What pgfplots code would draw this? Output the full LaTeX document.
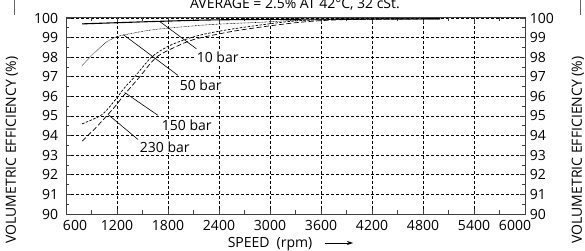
\documentclass[border=0pt]{standalone}
\usepackage{pgfplots}
\pgfplotsset{compat=1.18}
\usepackage{fontspec}
\setmainfont{Open Sans}
\usetikzlibrary{arrows.meta}

\begin{document}
\fontsize{14}{16}\selectfont
\begin{tikzpicture}
\begin{axis}[
  at={(0pt,0pt)}, anchor=south west,
  scale only axis, width=459pt, height=196pt,
  xmin=600, xmax=6000, ymin=90, ymax=100,
  xtick={600,1200,...,6000}, ytick={90,91,...,100},
  xticklabels={\hspace*{18pt}600,1200,1800,2400,3000,3600,4200,4800,5400,6000\hspace*{20pt}},
  minor x tick num=1, minor y tick num=1,
  tick align=inside, tick pos=both,
  yticklabel pos=left,
  major tick length=5pt, minor tick length=3.5pt,
  /pgf/number format/assume math mode=true,
  yticklabel style={xshift=-3pt},
  xticklabel style={yshift=-1pt},
  grid=major,
  major grid style={black, line width=0.6pt, dash pattern=on 3pt off 2pt},
  axis line style={black!75, line width=1pt},
  every tick/.style={black!75, line width=0.7pt},
  clip=false,
]
% 10 bar
\addplot[black, line width=1.1pt, smooth] coordinates {
  (790,99.70) (1200,99.76) (1700,99.83) (2300,99.90) (3000,99.93) (4000,99.95) (5000,99.96)};
% 50 bar
\addplot[black, line width=0.55pt, dash pattern=on 0.7pt off 0.7pt, smooth] coordinates {
  (790,97.58) (920,98.17) (1075,98.77) (1200,99.05) (1300,99.15) (1450,99.28) (1700,99.44)
  (2290,99.66) (2880,99.78) (3300,99.88) (4000,99.93) (5000,99.95)};
% 150 bar
\addplot[black, line width=0.7pt, dash pattern=on 2.5pt off 1.5pt, smooth] coordinates {
  (790,94.60) (1000,95.00) (1100,95.40) (1210,96.00) (1300,96.50) (1408,97.00) (1605,98.00)
  (1800,98.55) (2000,98.90) (2200,99.15) (2500,99.40) (2900,99.65) (3300,99.85) (3800,99.93) (5000,99.96)};
% 230 bar
\addplot[black, line width=0.7pt, dash pattern=on 5pt off 2.5pt, smooth] coordinates {
  (790,93.72) (950,94.40) (1094,95.08) (1180,95.50) (1270,96.00) (1467,97.00) (1664,98.00)
  (1900,98.55) (2100,98.90) (2300,99.10) (2600,99.35) (3000,99.60) (3400,99.80) (3900,99.92) (5000,99.96)};
% leaders
\draw[black, line width=0.6pt] (axis cs:1700,99.83) -- (axis cs:2134,98.43);
\draw[black, line width=0.6pt] (axis cs:1275,99.15) -- (axis cs:1918,97.07);
\draw[black, line width=0.6pt] (axis cs:1290,96.20) -- (axis cs:1683,95.03);
\draw[black, line width=0.6pt] (axis cs:1094,95.08) -- (axis cs:1447,93.80);
% labels
\node[anchor=west, fill=white, inner sep=1pt] at (axis cs:2125,98.0) {10 bar};
\node[anchor=west, fill=white, inner sep=1pt] at (axis cs:1925,96.55) {50 bar};
\node[anchor=west, fill=white, inner sep=1pt] at (axis cs:1715,94.54) {150 bar};
\node[anchor=west, fill=white, inner sep=1pt] at (axis cs:1455,93.43) {230 bar};
\end{axis}
\begin{axis}[
  at={(0pt,0pt)}, anchor=south west,
  scale only axis, width=459pt, height=196pt,
  xmin=600, xmax=6000, ymin=90, ymax=100,
  axis x line=none, axis y line*=right,
  ytick={90,91,...,100},
  yticklabel pos=right,
  /pgf/number format/assume math mode=true,
  yticklabel style={xshift=0pt},
  axis line style={draw=none},
  major tick length=0pt,
]
\end{axis}
% axis labels
\node[rotate=90] at (-54pt,64pt) {VOLUMETRIC EFFICIENCY (\%)};
\node[rotate=90] at (512pt,64pt) {VOLUMETRIC EFFICIENCY (\%)};
\node[anchor=base] at (204pt,-34pt) {SPEED\enspace(rpm)};
\draw[black, line width=0.8pt, -{Stealth[length=6pt,width=4pt]}] (259pt,-29pt) -- (287pt,-29pt);
\node[anchor=base] at (229pt,205pt) {AVERAGE = 2.5\% AT 42°C, 32 cSt.};
\draw[black!60, line width=0.8pt] (-52pt,199pt) -- (-52pt,216pt);
\draw[black!60, line width=0.8pt] (514pt,199pt) -- (514pt,216pt);
\pgfresetboundingbox
\useasboundingbox (-66pt,-37pt) rectangle (519pt,214pt);
\end{tikzpicture}
\end{document}
